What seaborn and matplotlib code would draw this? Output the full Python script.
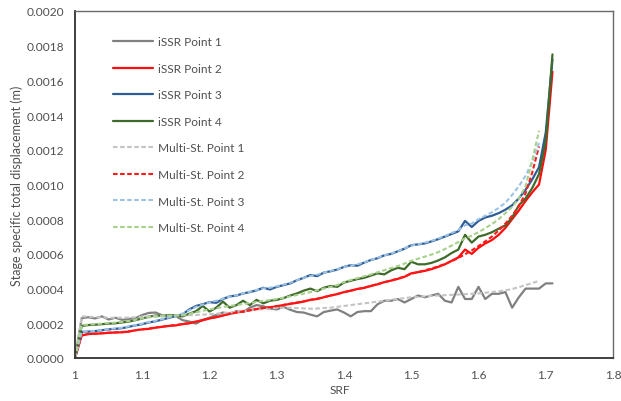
import numpy as np
import pandas as pd
import seaborn as sns
import matplotlib
matplotlib.use("Agg")
import matplotlib.pyplot as plt
from matplotlib.ticker import MultipleLocator, FuncFormatter

# Strength reduction factor steps
srf_issr = [round(1.00 + 0.01 * i, 2) for i in range(72)]    # 1.00 .. 1.71
srf_multi = [round(1.00 + 0.01 * i, 2) for i in range(70)]   # 1.00 .. 1.69

# iSSR analysis: stage specific total displacement (m)
issr_p1 = [0, 0.000230, 0.000235, 0.000228, 0.000240, 0.000222, 0.000232, 0.000220, 0.000225, 0.000230,
           0.000248, 0.000260, 0.000262, 0.000245, 0.000240, 0.000242, 0.000218, 0.000210, 0.000198, 0.000220,
           0.000232, 0.000248, 0.000262, 0.000255, 0.000270, 0.000265, 0.000290, 0.000305, 0.000298, 0.000285,
           0.000280, 0.000295, 0.000278, 0.000265, 0.000262, 0.000250, 0.000240, 0.000265, 0.000273, 0.000280,
           0.000262, 0.000240, 0.000265, 0.000270, 0.000270, 0.000310, 0.000330, 0.000330, 0.000340, 0.000320,
           0.000340, 0.000360, 0.000350, 0.000360, 0.000370, 0.000330, 0.000320, 0.000410, 0.000340, 0.000340,
           0.000410, 0.000340, 0.000370, 0.000370, 0.000380, 0.000290, 0.000350, 0.000400, 0.000400, 0.000400,
           0.000430, 0.000430]
issr_p2 = [0, 0.000130, 0.000138, 0.000140, 0.000142, 0.000145, 0.000147, 0.000148, 0.000152, 0.000160,
           0.000165, 0.000168, 0.000175, 0.000180, 0.000185, 0.000188, 0.000195, 0.000200, 0.000210, 0.000218,
           0.000228, 0.000235, 0.000245, 0.000255, 0.000262, 0.000268, 0.000275, 0.000282, 0.000288, 0.000292,
           0.000298, 0.000305, 0.000312, 0.000318, 0.000325, 0.000335, 0.000340, 0.000350, 0.000360, 0.000368,
           0.000380, 0.000388, 0.000398, 0.000404, 0.000415, 0.000425, 0.000437, 0.000446, 0.000456, 0.000468,
           0.000488, 0.000495, 0.000502, 0.000512, 0.000525, 0.000540, 0.000560, 0.000580, 0.000625, 0.000600,
           0.000635, 0.000660, 0.000680, 0.000710, 0.000750, 0.000800, 0.000850, 0.000905, 0.000955, 0.001000,
           0.001200, 0.001650]
issr_p3 = [0, 0.000150, 0.000152, 0.000155, 0.000160, 0.000165, 0.000168, 0.000172, 0.000180, 0.000188,
           0.000195, 0.000205, 0.000212, 0.000222, 0.000232, 0.000242, 0.000252, 0.000280, 0.000300, 0.000310,
           0.000322, 0.000318, 0.000340, 0.000355, 0.000360, 0.000372, 0.000380, 0.000390, 0.000405, 0.000395,
           0.000410, 0.000420, 0.000430, 0.000448, 0.000462, 0.000478, 0.000472, 0.000492, 0.000500, 0.000510,
           0.000525, 0.000535, 0.000532, 0.000550, 0.000565, 0.000575, 0.000592, 0.000600, 0.000615, 0.000630,
           0.000650, 0.000655, 0.000660, 0.000672, 0.000685, 0.000700, 0.000715, 0.000730, 0.000790, 0.000755,
           0.000790, 0.000810, 0.000820, 0.000835, 0.000855, 0.000880, 0.000920, 0.000970, 0.001030, 0.001100,
           0.001300, 0.001720]
issr_p4 = [0, 0.000185, 0.000190, 0.000192, 0.000195, 0.000198, 0.000200, 0.000205, 0.000210, 0.000218,
           0.000228, 0.000238, 0.000245, 0.000242, 0.000248, 0.000245, 0.000240, 0.000255, 0.000270, 0.000300,
           0.000268, 0.000290, 0.000325, 0.000290, 0.000305, 0.000330, 0.000305, 0.000335, 0.000315, 0.000330,
           0.000335, 0.000345, 0.000360, 0.000372, 0.000388, 0.000400, 0.000385, 0.000405, 0.000415, 0.000410,
           0.000435, 0.000445, 0.000455, 0.000462, 0.000475, 0.000488, 0.000482, 0.000505, 0.000520, 0.000512,
           0.000555, 0.000540, 0.000540, 0.000548, 0.000562, 0.000580, 0.000605, 0.000625, 0.000710, 0.000665,
           0.000700, 0.000710, 0.000725, 0.000745, 0.000765, 0.000810, 0.000880, 0.000920, 0.000980, 0.001060,
           0.001250, 0.001750]

# Multi-stage analysis: stage specific total displacement (m)
multi_p1 = [0, 0.000240, 0.000238, 0.000236, 0.000234, 0.000232, 0.000232, 0.000232, 0.000233, 0.000235,
            0.000238, 0.000240, 0.000242, 0.000243, 0.000244, 0.000245, 0.000246, 0.000247, 0.000248, 0.000250,
            0.000252, 0.000255, 0.000258, 0.000262, 0.000266, 0.000270, 0.000274, 0.000278, 0.000282, 0.000285,
            0.000288, 0.000290, 0.000290, 0.000288, 0.000286, 0.000284, 0.000285, 0.000288, 0.000290, 0.000295,
            0.000300, 0.000305, 0.000310, 0.000315, 0.000320, 0.000325, 0.000330, 0.000335, 0.000340, 0.000345,
            0.000350, 0.000352, 0.000355, 0.000358, 0.000360, 0.000362, 0.000364, 0.000366, 0.000368, 0.000370,
            0.000372, 0.000376, 0.000380, 0.000385, 0.000390, 0.000398, 0.000408, 0.000420, 0.000432, 0.000445]
multi_p2 = [0, 0.000135, 0.000138, 0.000140, 0.000143, 0.000146, 0.000148, 0.000150, 0.000154, 0.000160,
            0.000165, 0.000170, 0.000176, 0.000181, 0.000186, 0.000190, 0.000196, 0.000202, 0.000210, 0.000218,
            0.000228, 0.000236, 0.000245, 0.000254, 0.000262, 0.000268, 0.000275, 0.000282, 0.000288, 0.000293,
            0.000299, 0.000306, 0.000313, 0.000320, 0.000327, 0.000335, 0.000342, 0.000351, 0.000360, 0.000369,
            0.000379, 0.000388, 0.000397, 0.000406, 0.000416, 0.000426, 0.000437, 0.000447, 0.000458, 0.000470,
            0.000485, 0.000495, 0.000505, 0.000516, 0.000528, 0.000542, 0.000558, 0.000576, 0.000598, 0.000620,
            0.000645, 0.000672, 0.000700, 0.000735, 0.000775, 0.000820, 0.000875, 0.000950, 0.001070, 0.001220]
multi_p3 = [0, 0.000150, 0.000153, 0.000156, 0.000161, 0.000166, 0.000170, 0.000175, 0.000182, 0.000190,
            0.000198, 0.000207, 0.000215, 0.000224, 0.000234, 0.000244, 0.000256, 0.000275, 0.000295, 0.000308,
            0.000320, 0.000330, 0.000342, 0.000354, 0.000362, 0.000373, 0.000382, 0.000392, 0.000402, 0.000405,
            0.000413, 0.000423, 0.000434, 0.000448, 0.000462, 0.000472, 0.000480, 0.000492, 0.000502, 0.000512,
            0.000524, 0.000533, 0.000540, 0.000552, 0.000565, 0.000577, 0.000592, 0.000602, 0.000616, 0.000632,
            0.000648, 0.000656, 0.000664, 0.000675, 0.000688, 0.000703, 0.000720, 0.000738, 0.000765, 0.000775,
            0.000800, 0.000820, 0.000840, 0.000865, 0.000895, 0.000940, 0.000990, 0.001050, 0.001130, 0.001240]
multi_p4 = [0, 0.000190, 0.000192, 0.000195, 0.000198, 0.000201, 0.000204, 0.000208, 0.000213, 0.000220,
            0.000228, 0.000234, 0.000238, 0.000241, 0.000243, 0.000245, 0.000248, 0.000255, 0.000263, 0.000272,
            0.000280, 0.000287, 0.000294, 0.000300, 0.000305, 0.000311, 0.000317, 0.000323, 0.000329, 0.000334,
            0.000340, 0.000347, 0.000355, 0.000363, 0.000371, 0.000380, 0.000390, 0.000400, 0.000410, 0.000420,
            0.000438, 0.000449, 0.000460, 0.000471, 0.000482, 0.000494, 0.000506, 0.000518, 0.000530, 0.000544,
            0.000560, 0.000572, 0.000584, 0.000596, 0.000610, 0.000628, 0.000648, 0.000668, 0.000690, 0.000705,
            0.000725, 0.000748, 0.000772, 0.000800, 0.000835, 0.000870, 0.000920, 0.000990, 0.001140, 0.001310]

labels_issr = ["iSSR Point 1", "iSSR Point 2", "iSSR Point 3", "iSSR Point 4"]
labels_multi = ["Multi-St. Point 1", "Multi-St. Point 2", "Multi-St. Point 3", "Multi-St. Point 4"]

frames = []
for lab, vals in zip(labels_issr, [issr_p1, issr_p2, issr_p3, issr_p4]):
    frames.append(pd.DataFrame({"SRF": srf_issr, "disp": vals, "series": lab}))
for lab, vals in zip(labels_multi, [multi_p1, multi_p2, multi_p3, multi_p4]):
    frames.append(pd.DataFrame({"SRF": srf_multi, "disp": vals, "series": lab}))
df = pd.concat(frames, ignore_index=True)

order = labels_issr + labels_multi
palette = {
    "iSSR Point 1": "#808080",
    "iSSR Point 2": "#ff0d0d",
    "iSSR Point 3": "#2e5d96",
    "iSSR Point 4": "#3e6b2a",
    "Multi-St. Point 1": "#c4c4c4",
    "Multi-St. Point 2": "#ff1a1a",
    "Multi-St. Point 3": "#9cc3e5",
    "Multi-St. Point 4": "#a8d08d",
}
dashes = {lab: "" for lab in labels_issr}
dashes.update({lab: (2.2, 1.2) for lab in labels_multi})
widths = {lab: 1.6 for lab in labels_issr}
widths.update({lab: 1.5 for lab in labels_multi})

sns.set_theme(style="white")
plt.rcParams["font.family"] = ["Lato", "DejaVu Sans"]

fig = plt.figure(figsize=(6.21, 4.02), dpi=100)
ax = fig.add_axes([75 / 621, 1 - 359 / 402, (613 - 75) / 621, (359 - 12) / 402])

sns.lineplot(data=df, x="SRF", y="disp", hue="series", style="series",
             hue_order=order, style_order=order, palette=palette, dashes=dashes,
             ax=ax, legend=False, estimator=None, sort=False)
for line, lab in zip(ax.get_lines(), order):
    line.set_linewidth(widths[lab])
    line.set_label(lab)

ax.set_xlim(1.0, 1.8)
ax.set_ylim(0, 0.002)
ax.xaxis.set_major_locator(MultipleLocator(0.1))
ax.xaxis.set_minor_locator(MultipleLocator(0.02))
ax.yaxis.set_major_locator(MultipleLocator(0.0002))
ax.yaxis.set_minor_locator(MultipleLocator(0.00004))
ax.xaxis.set_major_formatter(FuncFormatter(lambda v, p: f"{v:.1f}".rstrip("0").rstrip(".")))
ax.yaxis.set_major_formatter(FuncFormatter(lambda v, p: f"{v:.4f}"))

tick_col = "#505050"
ax.tick_params(axis="both", which="both", direction="in", color="#404040",
               labelcolor=tick_col, labelsize=8.6)
ax.tick_params(axis="both", which="major", length=4, width=0.9)
ax.tick_params(axis="both", which="minor", length=4, width=0.9)
ax.tick_params(axis="y", which="major", pad=8)
ax.tick_params(axis="x", which="major", pad=8)
for side in ["left", "bottom"]:
    ax.spines[side].set_color("#303030")
    ax.spines[side].set_linewidth(1.3)
for side in ["top", "right"]:
    ax.spines[side].set_color("#6a6a6a")
    ax.spines[side].set_linewidth(1.0)

ax.set_xlabel("SRF", color=tick_col, fontsize=8.6)
ax.set_ylabel("Stage specific total displacement (m)", color=tick_col, fontsize=9)
ax.xaxis.set_label_coords((340 - 75) / 538, -(385 - 359) / 347)
ax.yaxis.set_label_coords((23 - 75) / 538, 0.5)

handles = ax.get_lines()
leg = ax.legend(handles=handles, labels=order, loc="upper left",
                bbox_to_anchor=(30 / 538, 1 - 17 / 347), frameon=False,
                fontsize=8.6, labelspacing=1.3, handlelength=3.35,
                handletextpad=0.4, borderpad=0.2)
for t in leg.get_texts():
    t.set_color(tick_col)

fig.savefig("out.png", dpi=100)
